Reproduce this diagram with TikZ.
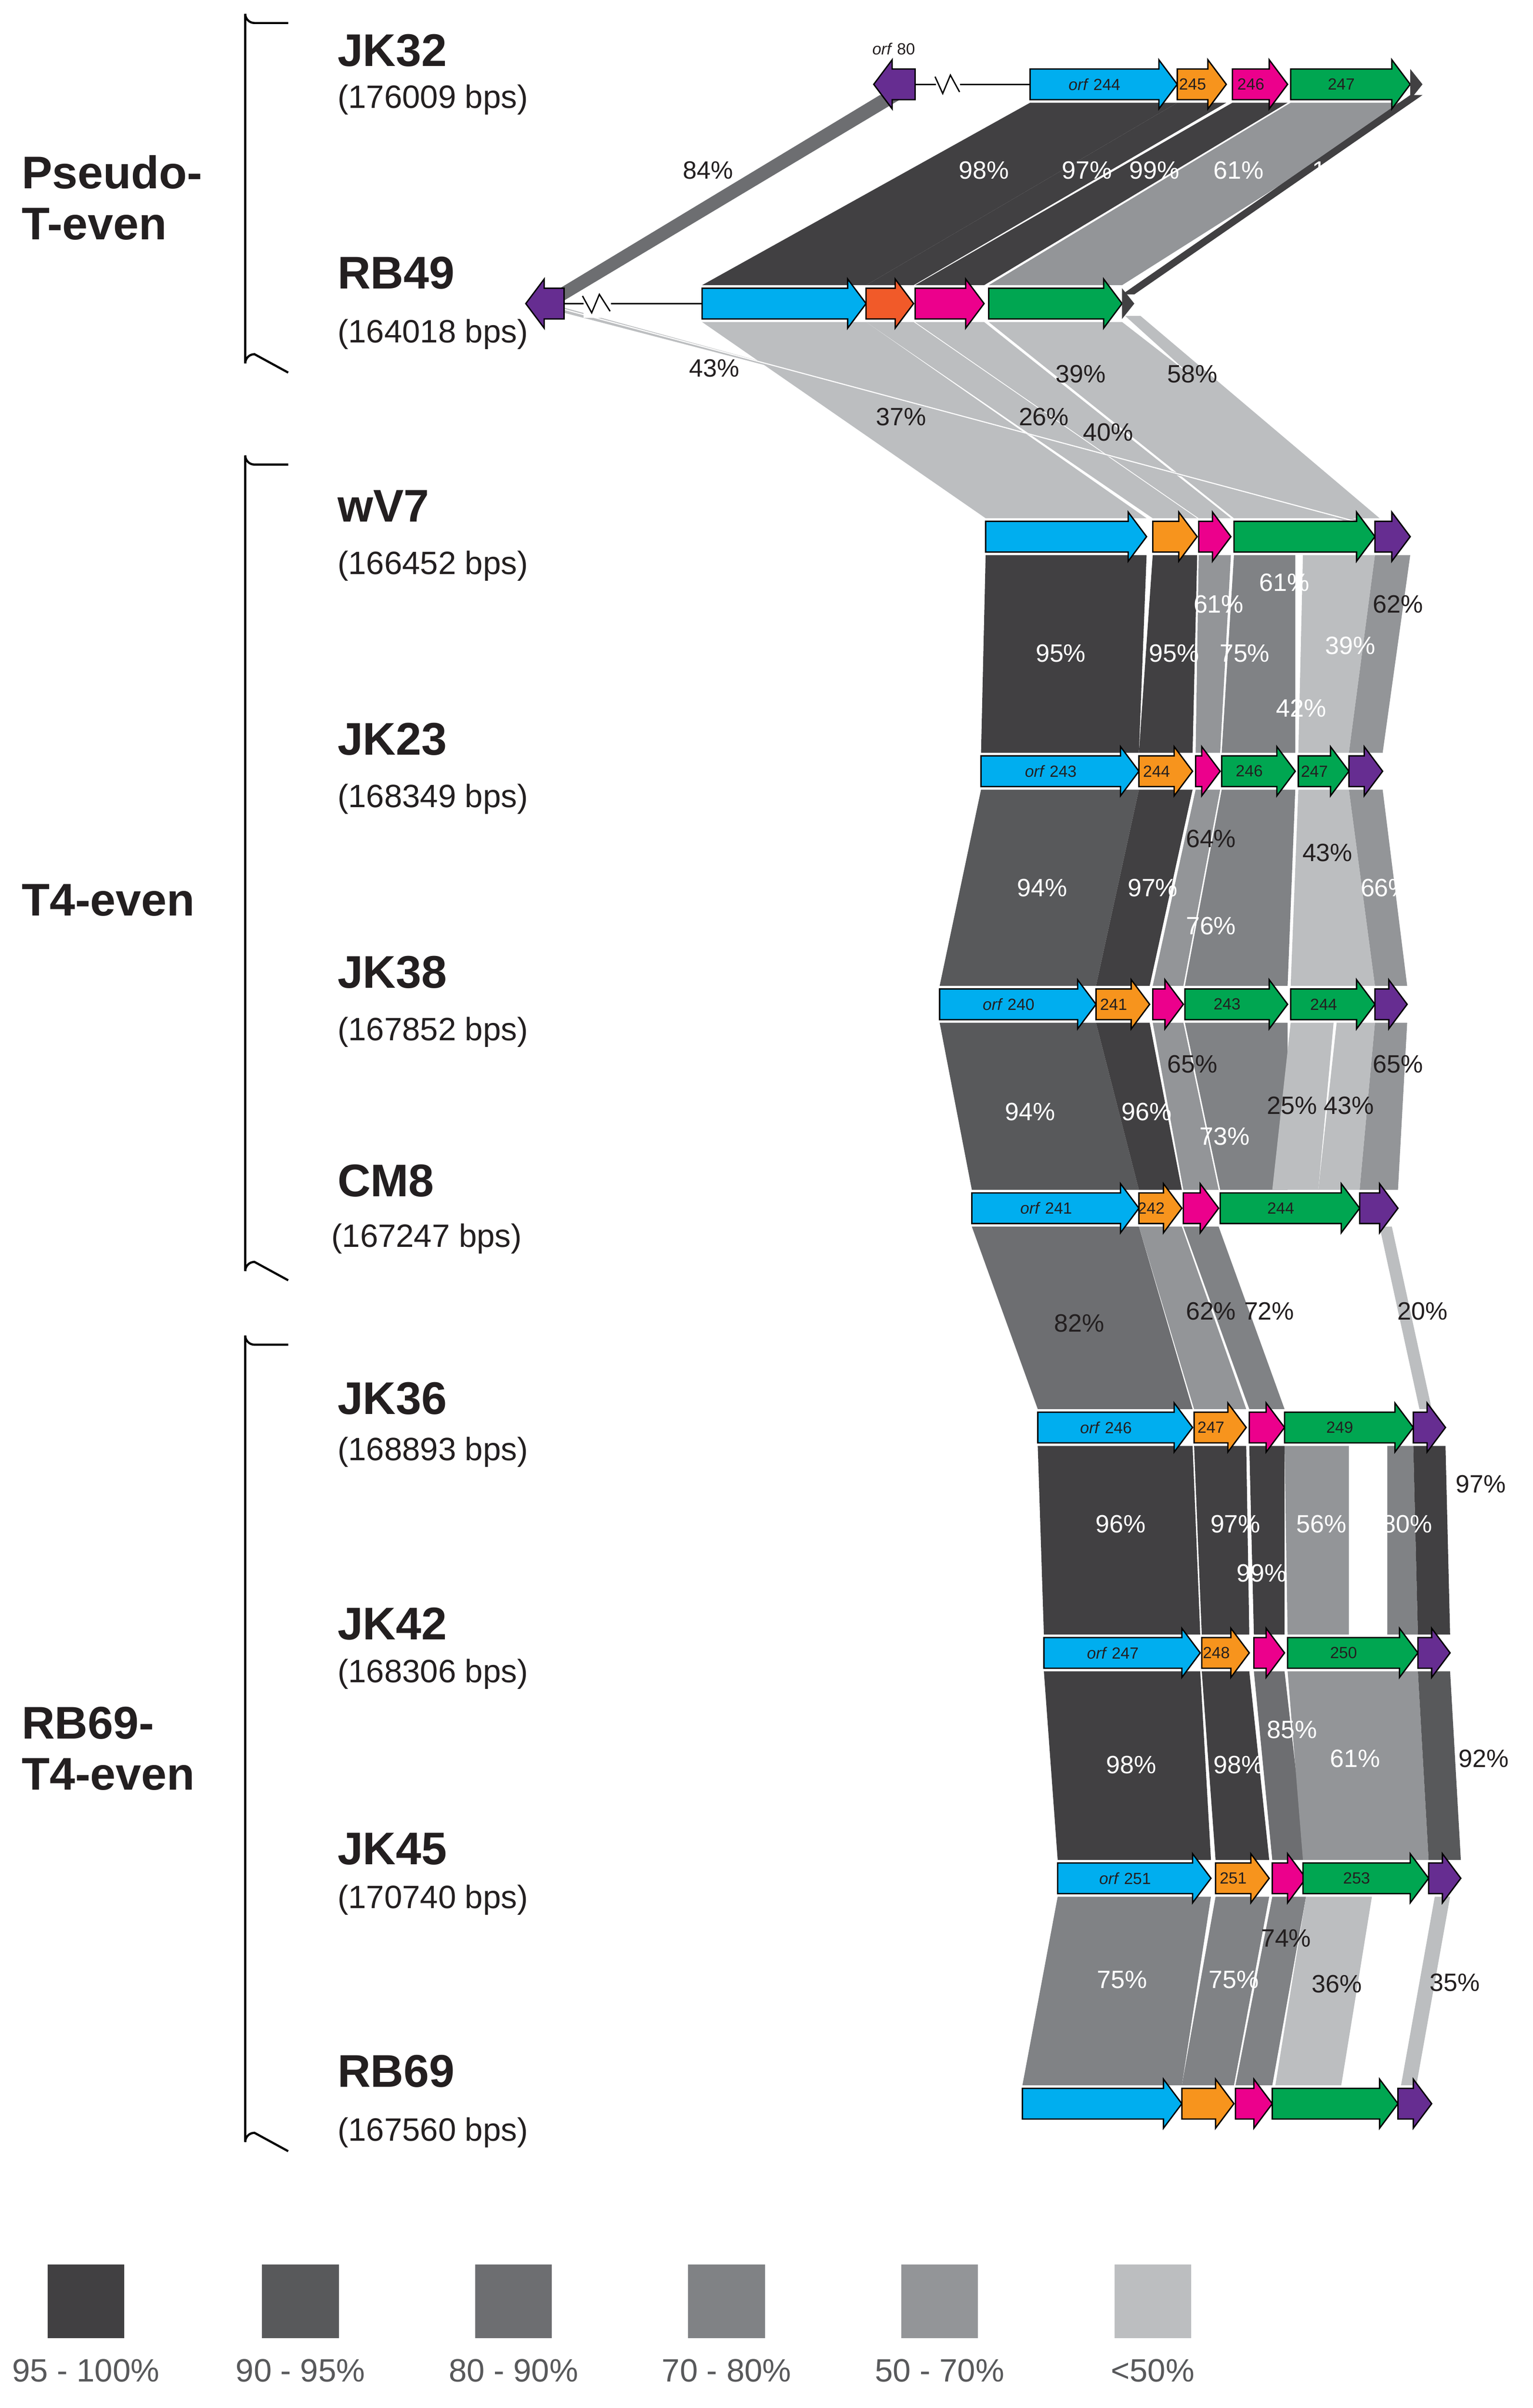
\documentclass[tikz,border=0pt]{standalone}
\usepackage{fontspec}
\setmainfont{Liberation Sans}
\definecolor{cA}{HTML}{414042}
\definecolor{cB}{HTML}{58595B}
\definecolor{cC}{HTML}{6D6E71}
\definecolor{cD}{HTML}{808285}
\definecolor{cE}{HTML}{939598}
\definecolor{cF}{HTML}{BCBEC0}
\definecolor{gblue}{HTML}{00AEEF}
\definecolor{gorange}{HTML}{F7941D}
\definecolor{gred}{HTML}{F15A29}
\definecolor{gmag}{HTML}{EC008C}
\definecolor{ggreen}{HTML}{00A651}
\definecolor{gpurp}{HTML}{662D91}
\definecolor{txt}{HTML}{231F20}
\newcommand\gene[5]{\draw[black,line width=0.5pt,fill=#4] (#1,{#3-10}) -- ({#2-12},{#3-10}) -- ({#2-12},{#3-16}) -- (#2,#3) -- ({#2-12},{#3+16}) -- ({#2-12},{#3+10}) -- (#1,{#3+10}) -- cycle;
 \node[font=\fontsize{6}{7}\selectfont,text=txt] at ({(#1+#2-12)/2},#3) {#5};}
\newcommand\lgene[3]{\draw[black,line width=0.5pt,fill=gpurp] (#2,{#3-10}) -- ({#1+12},{#3-10}) -- ({#1+12},{#3-16}) -- (#1,#3) -- ({#1+12},{#3+16}) -- ({#1+12},{#3+10}) -- (#2,{#3+10}) -- cycle;}
\newcommand\band[7]{\fill[#1] (#2,#4) -- (#3,#4) -- (#6,#7) -- (#5,#7) -- cycle;}
\newcommand\pl[4]{\node[font=\fontsize{9.3}{10}\selectfont,text=#4] at (#1,#2) {#3};}
\newcommand\grpbrace[2]{\draw[line width=0.8pt] (188,#1) -- (166,#1) arc (90:180:6) -- (160,{#2-6}) arc (180:270:6) -- (188,#2);}
\begin{document}
\begin{tikzpicture}[x=0.02cm,y=-0.02cm]
\useasboundingbox (0,0) rectangle (1000,1570.5);
% ---------- bands JK32 -> RB49
\band{cC}{574}{592}{62}{352}{368}{196}
\band{cA}{672}{768}{67}{458}{565}{186}
\band{cA}{768}{800}{67}{565}{596}{186}
\band{cA}{804}{840}{67}{597}{642}{186}
\band{cE}{842}{920}{67}{645}{732}{186}
\band{cA}{920}{928}{62}{732}{740}{192}
% ---------- RB49 -> wV7
\band{cF}{458}{565}{210}{643}{748}{338}
\band{cF}{565}{596}{210}{752}{781}{338}
\band{cF}{597}{642}{210}{782}{803}{338}
\band{cF}{645}{732}{210}{805}{897}{338}
\band{cF}{734}{744}{206}{880}{900}{338}
\fill[cF] (362,199) -- (368,204) -- (890,340) -- (878,340) -- cycle;
\draw[white,line width=0.4pt] (365,201) -- (884,340);
% ---------- wV7 -> JK23
\band{cA}{643}{748}{362}{640}{743}{491}
\band{cA}{752}{781}{362}{743}{778}{491}
\band{cE}{782}{803}{362}{780}{796}{491}
\band{cD}{805}{845}{362}{797}{845}{491}
\band{cF}{850}{897}{362}{847}{880}{491}
\band{cE}{897}{920}{362}{880}{902}{491}
% ---------- JK23 -> JK38
\band{cB}{640}{743}{515}{613}{715}{643}
\band{cA}{743}{778}{515}{715}{750}{643}
\band{cE}{780}{796}{515}{752}{772}{643}
\band{cD}{797}{845}{515}{773}{840}{643}
\band{cF}{847}{880}{515}{842}{897}{643}
\band{cE}{880}{902}{515}{897}{918}{643}
% ---------- JK38 -> CM8
\band{cB}{613}{715}{667}{634}{743}{776}
\band{cA}{715}{750}{667}{743}{771}{776}
\band{cE}{752}{772}{667}{772}{795}{776}
\band{cD}{773}{840}{667}{796}{840}{776}
\band{cF}{842}{870}{667}{830}{860}{776}
\band{cF}{872}{897}{667}{860}{887}{776}
\band{cE}{897}{918}{667}{887}{912}{776}
% ---------- CM8 -> JK36
\band{cC}{634}{743}{800}{677}{778}{919}
\band{cE}{743}{771}{800}{779}{813}{919}
\band{cD}{772}{795}{800}{815}{838}{919}
\band{cF}{900}{908}{800}{926}{934}{919}
% ---------- JK36 -> JK42
\band{cA}{677}{778}{943}{681}{783}{1066}
\band{cA}{779}{813}{943}{784}{815}{1066}
\band{cA}{815}{838}{943}{818}{838}{1066}
\band{cE}{838}{880}{943}{840}{880}{1066}
\band{cD}{905}{922}{943}{905}{925}{1066}
\band{cA}{922}{943}{943}{925}{946}{1066}
% ---------- JK42 -> JK45
\band{cA}{681}{783}{1090}{690}{790}{1213}
\band{cA}{784}{815}{1090}{793}{828}{1213}
\band{cC}{818}{838}{1090}{830}{852}{1213}
\band{cE}{840}{925}{1090}{850}{932}{1213}
\band{cB}{925}{946}{1090}{932}{953}{1213}
% ---------- JK45 -> RB69
\band{cD}{690}{790}{1237}{667}{771}{1360}
\band{cD}{793}{828}{1237}{771}{805}{1360}
\band{cD}{830}{852}{1237}{806}{830}{1360}
\band{cF}{852}{895}{1237}{832}{875}{1360}
\band{cF}{936}{946}{1237}{914}{924}{1360}
% ---------- percent labels
\pl{462}{111}{84\%}{txt}
\pl{642}{111}{98\%}{white}\pl{709}{111}{97\%}{white}\pl{753}{111}{99\%}{white}
\pl{808}{111}{61\%}{white}\pl{877}{111}{100\%}{white}
\pl{466}{240}{43\%}{txt}\pl{588}{272}{37\%}{txt}\pl{681}{272}{26\%}{txt}
\pl{723}{282}{40\%}{txt}\pl{705}{244}{39\%}{txt}\pl{778}{244}{58\%}{txt}
\pl{692}{426}{95\%}{white}\pl{766}{426}{95\%}{white}\pl{795}{394}{61\%}{white}
\pl{812}{426}{75\%}{white}\pl{838}{380}{61\%}{white}\pl{849}{462}{42\%}{white}
\pl{881}{421}{39\%}{white}\pl{912}{394}{62\%}{txt}
\pl{680}{579}{94\%}{white}\pl{752}{579}{97\%}{white}\pl{790}{547}{64\%}{txt}
\pl{790}{604}{76\%}{white}\pl{866}{556}{43\%}{txt}\pl{904}{579}{66\%}{white}
\pl{672}{725}{94\%}{white}\pl{748}{725}{96\%}{white}\pl{778}{694}{65\%}{txt}
\pl{799}{741}{73\%}{white}\pl{843}{721}{25\%}{txt}\pl{880}{721}{43\%}{txt}\pl{912}{694}{65\%}{txt}
\pl{704}{863}{82\%}{txt}\pl{790}{855}{62\%}{txt}\pl{828}{855}{72\%}{txt}\pl{928}{855}{20\%}{txt}
\pl{731}{994}{96\%}{white}\pl{806}{994}{97\%}{white}\pl{823}{1026}{99\%}{white}
\pl{862}{994}{56\%}{white}\pl{918}{994}{80\%}{white}\pl{966}{968}{97\%}{txt}
\pl{738}{1151}{98\%}{white}\pl{808}{1151}{98\%}{white}\pl{843}{1128}{85\%}{white}
\pl{884}{1147}{61\%}{white}\pl{968}{1147}{92\%}{txt}
\pl{732}{1291}{75\%}{white}\pl{805}{1291}{75\%}{white}\pl{839}{1264}{74\%}{txt}
\pl{872}{1294}{36\%}{txt}\pl{949}{1293}{35\%}{txt}
% ---------- genes JK32
\draw[line width=0.5pt] (597,55) -- (672,55);
\draw[line width=0.5pt,fill=white,draw=white] (611,46) rectangle (626,64);
\draw[line width=0.5pt] (610,50) -- (615,61) -- (620,49) -- (626,60);
\lgene{570}{597}{55}
\node[font=\fontsize{6}{7}\selectfont,text=txt] at (583,32) {\textit{orf} 80};
\gene{672}{768}{55}{gblue}{\textit{orf} 244}
\gene{768}{800}{55}{gorange}{245}
\gene{804}{840}{55}{gmag}{246}
\gene{842}{920}{55}{ggreen}{247}
\fill[cA] (920,45) -- (928,55) -- (920,65) -- cycle;
% RB49
\draw[line width=0.5pt] (368,198) -- (458,198);
\draw[line width=0.5pt,fill=white,draw=white] (381,189) rectangle (398,207);
\draw[line width=0.5pt] (380,193) -- (386,204) -- (391,192) -- (398,203);
\lgene{343}{368}{198}
\gene{458}{565}{198}{gblue}{}
\gene{565}{596}{198}{gred}{}
\gene{597}{642}{198}{gmag}{}
\gene{645}{732}{198}{ggreen}{}
\fill[cA] (732,188) -- (740,198) -- (732,208) -- cycle;
% wV7
\gene{643}{748}{350}{gblue}{}
\gene{752}{781}{350}{gorange}{}
\gene{782}{803}{350}{gmag}{}
\gene{805}{897}{350}{ggreen}{}
\gene{897}{920}{350}{gpurp}{}
% JK23
\gene{640}{743}{503}{gblue}{\textit{orf} 243}
\gene{743}{778}{503}{gorange}{244}
\gene{780}{796}{503}{gmag}{}
\gene{797}{845}{503}{ggreen}{246}
\gene{847}{880}{503}{ggreen}{247}
\gene{880}{902}{503}{gpurp}{}
% JK38
\gene{613}{715}{655}{gblue}{\textit{orf} 240}
\gene{715}{750}{655}{gorange}{241}
\gene{752}{772}{655}{gmag}{}
\gene{773}{840}{655}{ggreen}{243}
\gene{842}{897}{655}{ggreen}{244}
\gene{897}{918}{655}{gpurp}{}
% CM8
\gene{634}{743}{788}{gblue}{\textit{orf} 241}
\gene{743}{771}{788}{gorange}{242}
\gene{772}{795}{788}{gmag}{}
\gene{796}{887}{788}{ggreen}{244}
\gene{887}{912}{788}{gpurp}{}
% JK36
\gene{677}{778}{931}{gblue}{\textit{orf} 246}
\gene{779}{813}{931}{gorange}{247}
\gene{815}{838}{931}{gmag}{}
\gene{838}{922}{931}{ggreen}{249}
\gene{922}{943}{931}{gpurp}{}
% JK42
\gene{681}{783}{1078}{gblue}{\textit{orf} 247}
\gene{784}{815}{1078}{gorange}{248}
\gene{818}{838}{1078}{gmag}{}
\gene{840}{925}{1078}{ggreen}{250}
\gene{925}{946}{1078}{gpurp}{}
% JK45
\gene{690}{790}{1225}{gblue}{\textit{orf} 251}
\gene{793}{828}{1225}{gorange}{251}
\gene{830}{852}{1225}{gmag}{}
\gene{850}{932}{1225}{ggreen}{253}
\gene{932}{953}{1225}{gpurp}{}
% RB69
\gene{667}{771}{1372}{gblue}{}
\gene{771}{805}{1372}{gorange}{}
\gene{806}{830}{1372}{gmag}{}
\gene{830}{912}{1372}{ggreen}{}
\gene{912}{934}{1372}{gpurp}{}
% ---------- left labels
\tikzset{nm/.style={anchor=west,font=\fontsize{17}{19}\selectfont\bfseries,text=txt},
 bp/.style={anchor=west,font=\fontsize{12}{14}\selectfont,text=txt}}
\node[nm] at (214,33) {JK32}; \node[bp] at (214,65) {(176009 bps)};
\node[nm] at (214,178) {RB49}; \node[bp] at (214,218) {(164018 bps)};
\node[nm] at (214,330) {wV7}; \node[bp] at (214,369) {(166452 bps)};
\node[nm] at (214,482) {JK23}; \node[bp] at (214,521) {(168349 bps)};
\node[nm] at (214,634) {JK38}; \node[bp] at (214,673) {(167852 bps)};
\node[nm] at (214,770) {CM8}; \node[bp] at (210,808) {(167247 bps)};
\node[nm] at (214,912) {JK36}; \node[bp] at (214,947) {(168893 bps)};
\node[nm] at (214,1059) {JK42}; \node[bp] at (214,1092) {(168306 bps)};
\node[nm] at (214,1206) {JK45}; \node[bp] at (214,1239) {(170740 bps)};
\node[nm] at (214,1351) {RB69}; \node[bp] at (214,1391) {(167560 bps)};
\node[nm,align=left,anchor=north west] at (8,95) {Pseudo-\\T-even};
\node[nm] at (8,587) {T4-even};
\node[nm,align=left,anchor=north west] at (8,1107) {RB69-\\T4-even};
\grpbrace{15}{243}
\grpbrace{303}{835}
\grpbrace{877}{1403}
% ---------- legend
\foreach \x/\c/\t in {56/cA/95 - 100\%,196/cB/90 - 95\%,335/cC/80 - 90\%,474/cD/70 - 80\%,613/cE/50 - 70\%,752/cF/<50\%}{
 \fill[\c] ({\x-25},1477) rectangle ({\x+25},1525);
 \node[font=\fontsize{12}{14}\selectfont,text=cB] at (\x,1546) {\t};}
\end{tikzpicture}
\end{document}
